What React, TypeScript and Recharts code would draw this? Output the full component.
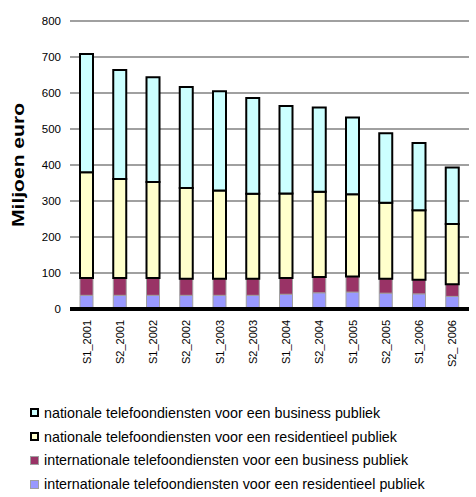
import React from "react";
import { BarChart, Bar, XAxis, YAxis, CartesianGrid, Label } from "recharts";

const periods = [
  "S1_2001", "S2_2001", "S1_2002", "S2_2002", "S1_2003", "S2_2003",
  "S1_2004", "S2_2004", "S1_2005", "S2_2005", "S1_2006", "S2_ 2006",
];
const intlResidential = [38, 38, 38, 38, 38, 38, 41, 45, 47, 44, 42, 35];
const intlBusiness = [48, 48, 48, 46, 46, 46, 45, 44, 43, 40, 39, 34];
const natResidential = [294, 275, 267, 252, 245, 236, 235, 237, 229, 211, 193, 167];
const natBusiness = [328, 303, 291, 281, 276, 266, 243, 234, 213, 193, 187, 157];
const yTicks = [0, 100, 200, 300, 400, 500, 600, 700, 800];

const FONT = "'Liberation Sans', Arial, sans-serif";

// bottom-to-top stack order
const series = [
  { key: "intlRes", name: "internationale telefoondiensten voor een residentieel publiek", fill: "#9999FF", stroke: "#A0A0A0", width: 1 },
  { key: "intlBus", name: "internationale telefoondiensten voor een business publiek", fill: "#993366", stroke: "#A0A0A0", width: 1 },
  { key: "natRes", name: "nationale telefoondiensten voor een residentieel publiek", fill: "#FFFFCC", stroke: "#000000", width: 2 },
  { key: "natBus", name: "nationale telefoondiensten voor een business publiek", fill: "#CCFFFF", stroke: "#000000", width: 2 },
];

const data = periods.map((p, i) => ({
  period: p,
  intlRes: intlResidential[i],
  intlBus: intlBusiness[i],
  natRes: natResidential[i],
  natBus: natBusiness[i],
}));

const RotatedTick = (props: any) => {
  const { x, y, payload } = props;
  return (
    <text
      transform={`translate(${x + 4},${y + 3}) rotate(-90)`}
      textAnchor="end"
      fontSize={11}
      fontFamily={FONT}
      fill="#000"
    >
      {payload.value}
    </text>
  );
};

// the original title is drawn a bit stretched, so fix its length
const YTitle = (props: any) => {
  const { viewBox } = props;
  const cy = viewBox.y + viewBox.height / 2;
  return (
    <text
      transform={`translate(24,${cy}) rotate(-90)`}
      textAnchor="middle"
      fontSize={16}
      fontWeight="bold"
      fontFamily={FONT}
      fill="#000"
      textLength={124}
      lengthAdjust="spacingAndGlyphs"
    >
      Miljoen euro
    </text>
  );
};

function LegendBlock() {
  const items = [...series].reverse();
  return (
    <div style={{ position: "absolute", left: 30, top: 401, fontFamily: FONT, fontSize: 14.3, color: "#000" }}>
      {items.map((s) => (
        <div key={s.key} style={{ display: "flex", alignItems: "center", height: 23.8, whiteSpace: "nowrap" }}>
          <span
            style={{
              display: "inline-block",
              boxSizing: "border-box",
              width: 9,
              height: 9,
              background: s.fill,
              border: `${s.width}px solid ${s.stroke}`,
              marginRight: 5,
            }}
          />
          <span>{s.name}</span>
        </div>
      ))}
    </div>
  );
}

export default function App() {
  return (
    <div style={{ position: "absolute", left: 0, top: 0, width: 476, height: 497, background: "#fff" }}>
      <BarChart
        width={476}
        height={390}
        data={data}
        margin={{ top: 21, right: 7, left: 0, bottom: 21 }}
        barSize={13}
      >
        <CartesianGrid vertical={false} stroke="#A0A0A0" strokeWidth={2} />
        <XAxis
          dataKey="period"
          height={60}
          interval={0}
          tickLine={false}
          axisLine={{ stroke: "#000", strokeWidth: 4 }}
          tick={<RotatedTick />}
        />
        <YAxis
          width={70}
          domain={[0, 800]}
          ticks={yTicks}
          axisLine={false}
          tickLine={false}
          tickMargin={3}
          tick={{ fontSize: 11.5, fill: "#000", fontFamily: FONT }}
        >
          <Label content={<YTitle />} />
        </YAxis>
        {series.map((s) => (
          <Bar
            key={s.key}
            dataKey={s.key}
            name={s.name}
            stackId="total"
            fill={s.fill}
            stroke={s.stroke}
            strokeWidth={s.width}
            isAnimationActive={false}
          />
        ))}
      </BarChart>
      <LegendBlock />
    </div>
  );
}
